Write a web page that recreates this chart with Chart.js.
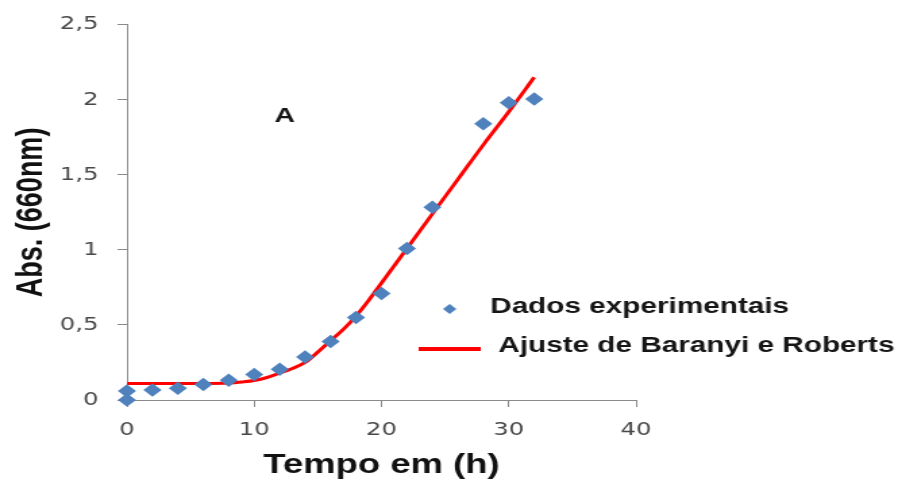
<!DOCTYPE html>
<html>
<head>
<meta charset="utf-8">
<title>Curva de crescimento</title>
<script src="https://cdn.jsdelivr.net/npm/chart.js@4.4.1/dist/chart.umd.min.js"></script>
<style>
    html, body { margin: 0; padding: 0; background: #ffffff; overflow: hidden; }
    canvas { display: block; }
</style>
</head>
<body>
<!-- drawn at 665px wide and shown at 898px, so the whole chart is a bit stretched sideways -->
<canvas id="growthChart" width="665" height="484" style="width:898px;height:484px"></canvas>
<script>
// experimental readings (time in h, absorbance at 660 nm)
const timeData = [0, 0, 2, 4, 6, 8, 10, 12, 14, 16, 18, 20, 22, 24, 28, 30, 32];
const absData = [0.06, 0.0, 0.066, 0.078, 0.104, 0.132, 0.17, 0.205, 0.287, 0.39, 0.55, 0.71, 1.01, 1.285, 1.84, 1.98, 2.005];

// Baranyi & Roberts fitted curve
const fitTime = [0, 2, 4, 6, 8, 9, 10, 11, 12, 13, 14, 15, 16, 17, 18, 19, 20, 22, 24, 26, 28, 30, 32];
const fitAbs = [0.11, 0.11, 0.11, 0.11, 0.113, 0.12, 0.13, 0.15, 0.18, 0.21, 0.25, 0.32, 0.395, 0.47, 0.56, 0.665, 0.78, 1.01, 1.24, 1.47, 1.70, 1.92, 2.15];

const xTicks = [0, 10, 20, 30, 40];
const yTicks = [0, 0.5, 1, 1.5, 2, 2.5];

const seriesLabels = ["Dados experimentais", "Ajuste de Baranyi e Roberts"];
const panelLabel = "A";
const panelLabelAt = {x: 12.4, y: 1.89};

function toPoints(xs, ys){
    return xs.map((x, i) => ({x: x, y: ys[i]}));
}

const tickFont = {family: "DejaVu Sans", size: 18};
const titleFont = {family: "Liberation Sans", size: 27, weight: "bold"};

// legend sits over the plot and runs past the right end of the x axis
const sideLegend = {
    id: "sideLegend",
    afterDraw(chart){
        const ctx = chart.ctx;
        const pts = chart.data.datasets[0];
        const fit = chart.data.datasets[1];
        ctx.save();

        // diamond marker
        ctx.fillStyle = pts.backgroundColor;
        ctx.beginPath();
        ctx.moveTo(333, 304);
        ctx.lineTo(338, 309);
        ctx.lineTo(333, 314);
        ctx.lineTo(328, 309);
        ctx.closePath();
        ctx.fill();

        // red line sample
        ctx.strokeStyle = fit.borderColor;
        ctx.lineWidth = 4;
        ctx.beginPath();
        ctx.moveTo(310, 349);
        ctx.lineTo(356, 349);
        ctx.stroke();

        ctx.fillStyle = "#161616";
        ctx.font = "bold 22px 'Liberation Sans'";
        ctx.textBaseline = "alphabetic";
        ctx.textAlign = "left";
        ctx.fillText(pts.label, 363, 313);
        ctx.fillText(fit.label, 369, 352);

        // panel letter
        ctx.font = "bold 21px 'Liberation Sans'";
        ctx.textAlign = "center";
        ctx.textBaseline = "middle";
        ctx.fillText(panelLabel,
            chart.scales.x.getPixelForValue(panelLabelAt.x),
            chart.scales.y.getPixelForValue(panelLabelAt.y));
        ctx.restore();
    }
};

const ctx = document.getElementById("growthChart").getContext("2d");

const chart = new Chart(ctx, {
    type: "scatter",
    data: {
        datasets: [{
            label: seriesLabels[0],
            data: toPoints(timeData, absData),
            pointStyle: "rectRot",
            pointRadius: 6.75,
            backgroundColor: "#4F81BD",
            borderColor: "#4F81BD",
            borderWidth: 0,
            clip: false //markers at y=0 hang over the axis
        },
        {
            label: seriesLabels[1],
            data: toPoints(fitTime, fitAbs),
            showLine: true,
            borderColor: "#FF0000",
            backgroundColor: "#FF0000",
            borderWidth: 3,
            pointRadius: 0,
            tension: 0.4,
            cubicInterpolationMode: "monotone",
            fill: false
        }]
    },
    options: {
        responsive: false,
        animation: false,
        layout: {
            padding: {top: 22, right: 194, left: 0, bottom: 0}
        },
        plugins: {
            legend: {display: false},
            tooltip: {enabled: false}
        },
        scales: {
            x: {
                type: "linear",
                min: 0,
                max: 40,
                afterFit: function(scale){ scale.height = 84; },
                afterBuildTicks: function(scale){
                    scale.ticks = xTicks.map(v => ({value: v}));
                },
                border: {color: "#8a8a8a", width: 1},
                grid: {drawOnChartArea: false, drawTicks: true, tickLength: 7, color: "#8a8a8a"},
                ticks: {
                    color: "#484848",
                    font: tickFont,
                    padding: 13
                },
                title: {
                    display: true,
                    text: "Tempo em (h)",
                    color: "#111111",
                    font: titleFont,
                    padding: {top: 0, bottom: 2}
                }
            },
            y: {
                type: "linear",
                min: 0,
                max: 2.5,
                afterFit: function(scale){ scale.width = 94; },
                afterBuildTicks: function(scale){
                    scale.ticks = yTicks.map(v => ({value: v}));
                },
                border: {color: "#8a8a8a", width: 1},
                grid: {drawOnChartArea: false, drawTicks: true, tickLength: 7, color: "#8a8a8a"},
                ticks: {
                    color: "#484848",
                    font: tickFont,
                    padding: 14,
                    callback: function(value){
                        return String(value).replace(".", ",");
                    }
                },
                title: {
                    display: true,
                    text: "Abs. (660nm)",
                    color: "#111111",
                    font: titleFont,
                    padding: {top: 7, bottom: 0}
                }
            }
        }
    },
    plugins: [sideLegend]
});
</script>
</body>
</html>
